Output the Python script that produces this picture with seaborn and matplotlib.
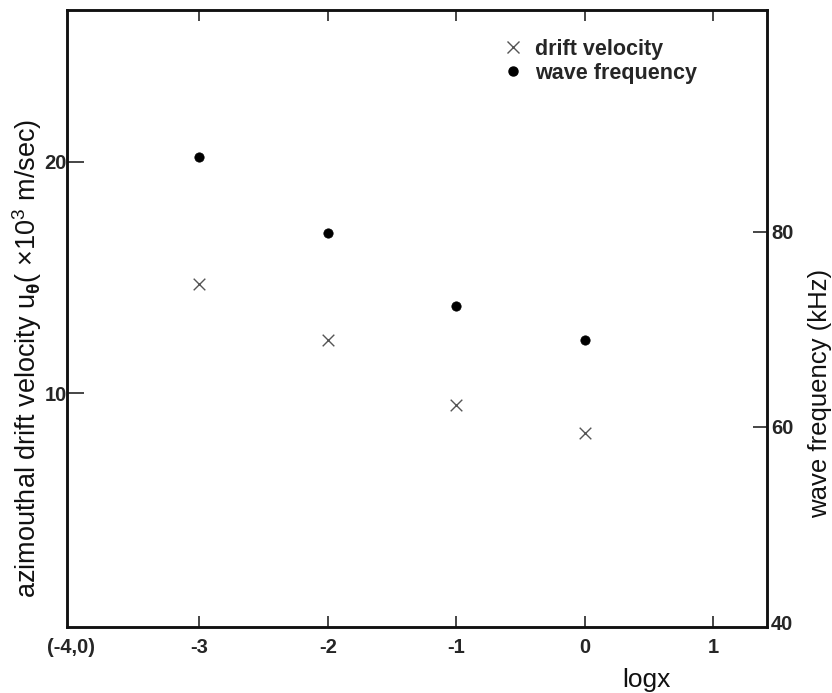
import matplotlib
matplotlib.use("Agg")
import matplotlib.pyplot as plt
import seaborn as sns
import pandas as pd
from matplotlib.lines import Line2D

# ---- data ----
logx = [-3, -2, -1, 0]
drift_velocity = [14.7, 12.3, 9.5, 8.3]      # x10^3 m/sec (left axis)
wave_frequency = [87.6, 79.9, 72.4, 68.9]     # kHz (right axis)
x_ticks = [-4, -3, -2, -1, 0, 1]
x_tick_labels = ["(-4,0)", "-3", "-2", "-1", "0", "1"]
left_ticks = [10, 20]
right_ticks = [40, 60, 80]

sns.set_theme(style="ticks")
plt.rcParams["font.family"] = ["Liberation Sans", "DejaVu Sans"]
plt.rcParams["mathtext.fontset"] = "custom"
plt.rcParams["mathtext.rm"] = "Liberation Sans"
plt.rcParams["mathtext.it"] = "Liberation Sans"
plt.rcParams["mathtext.bf"] = "Liberation Sans:bold"

df = pd.DataFrame({"logx": logx, "drift": drift_velocity, "freq": wave_frequency})

fig = plt.figure(figsize=(8.32, 6.93), dpi=100)
ax = fig.add_axes([67/832, 1 - 627/693, 700/832, 617/693])
ax2 = ax.twinx()

sns.scatterplot(data=df, x="logx", y="drift", ax=ax, marker="x", s=70,
                color="#555555", linewidth=1.0, legend=False)
sns.scatterplot(data=df, x="logx", y="freq", ax=ax2, marker="o", s=45,
                color="black", edgecolor="black", legend=False)

ax.set_xlim(-4.03, 1.42)
ax.set_ylim(-0.1, 26.55)
ax2.set_ylim(39.5, 102.7)

ax.set_xticks(x_ticks)
ax.set_xticklabels(x_tick_labels, fontsize=14.5, fontweight="bold")
ax.set_yticks(left_ticks)
ax.set_yticklabels([str(t) for t in left_ticks], fontsize=14.5, fontweight="bold")
ax2.set_yticks(right_ticks)
ax2.set_yticklabels([str(t) for t in right_ticks], fontsize=14.5, fontweight="bold")

ax.tick_params(axis="x", direction="in", length=8, width=1.2, pad=8,
               top=True, bottom=True, labeltop=False)
ax.tick_params(axis="y", direction="in", length=12, width=1.2, pad=0, left=True, right=False)
ax2.tick_params(axis="y", direction="in", length=10, width=1.2, pad=3, right=True, left=False)
ax.xaxis.get_major_ticks()[0].tick1line.set_visible(False)
ax.xaxis.get_major_ticks()[0].tick2line.set_visible(False)
ax2.yaxis.get_major_ticks()[0].tick2line.set_visible(False)

for a in (ax, ax2):
    for sp in a.spines.values():
        sp.set_visible(True)
        sp.set_linewidth(1.8)
        sp.set_color("#111111")

ax.set_xlabel("")
ax.set_ylabel("")
ax2.set_ylabel("")

fig.text(646/832, 1 - 680/693, "logx", fontsize=19, ha="center", va="center",
         color="#111111")
fig.text(27/832, 1 - 358/693,
         r"azimouthal drift velocity u$_{\mathbf{\theta}}$( $\times$10$^3$ m/sec)",
         fontsize=19.5, rotation=90, ha="center", va="center", color="#111111")
fig.text(820/832, 1 - 393/693, "wave frequency (kHz)", fontsize=18.5,
         rotation=90, ha="center", va="center", color="#111111")

handles = [
    Line2D([], [], linestyle="none", marker="x", color="#555555", markersize=9, markeredgewidth=1.0),
    Line2D([], [], linestyle="none", marker="o", color="black", markersize=6.5),
]
leg = ax.legend(handles, ["drift velocity", "wave frequency"], loc="upper left",
                bbox_to_anchor=(494/832, 1 - 28/693), bbox_transform=fig.transFigure,
                frameon=False, prop={"size": 15.5, "weight": "bold"},
                handlelength=0.8, handletextpad=0.6, labelspacing=0.15, borderpad=0)

fig.savefig("out.png", dpi=100, facecolor="white")
